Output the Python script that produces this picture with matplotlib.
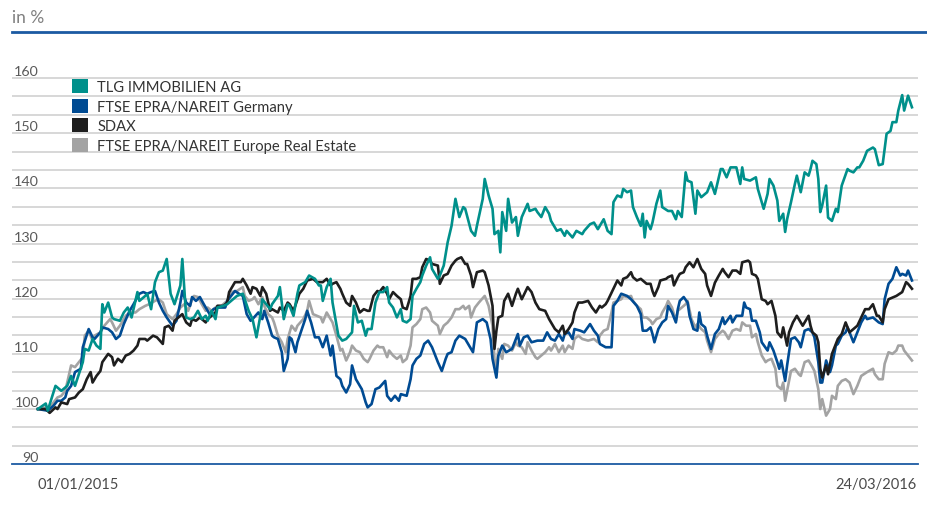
import matplotlib
matplotlib.use("Agg")
import matplotlib.pyplot as plt
import matplotlib.transforms as mtransforms
from matplotlib.patches import Patch
from matplotlib.lines import Line2D

plt.rcParams['font.family'] = ['Lato', 'DejaVu Sans']

# ---------------- data: (day since 01/01/2015, index value) ----------------
series_names = ["TLG IMMOBILIEN AG", "FTSE EPRA/NAREIT Germany", "SDAX",
                "FTSE EPRA/NAREIT Europe Real Estate"]
series_colors = ["#00908B", "#004B93", "#1E1E1E", "#A3A3A3"]
date_labels = ["01/01/2015", "24/03/2016"]
date_label_days = [0, 448]
y_label_values = [90, 100, 110, 120, 130, 140, 150, 160]

tlg = [(0,100.0),(4,101.0),(5,99.7),(9,104.2),(12,103.3),(15,104.2),(17,106.0),(19,104.2),(23,108.5),(24,110.9),
       (26,110.6),(28,112.7),(30,111.5),(32,110.9),(33,119.0),(34,117.5),(36,119.3),(38,116.6),(39,116.3),(42,116.0),
       (44,117.5),(46,118.4),(48,116.6),(51,121.2),(52,119.6),(55,120.5),(56,120.9),(58,118.1),(60,123.0),(62,124.8),
       (64,125.1),(66,127.2),(68,120.9),(70,119.0),(73,122.4),(74,127.2),(76,116.6),(78,116.3),(80,116.6),(82,117.8),
       (84,116.3),(86,116.9),(87,116.0),(89,117.8),(91,116.3),(92,118.4),(95,118.7),(97,119.0),(100,119.9),(102,120.5),
       (105,120.9),(106,119.9),(108,117.8),(110,116.3),(112,113.0),(114,116.9),(115,119.9),(117,119.0),(119,118.1),(120,119.0),
       (123,120.5),(124,122.1),(126,116.3),(128,119.0),(129,118.7),(131,116.9),(133,120.9),(134,122.4),(137,123.0),(139,124.2),
       (142,123.6),(144,122.4),(145,122.4),(146,119.6),(148,122.1),(150,123.6),(151,119.3),(154,113.3),(156,112.4),(158,112.7),
       (161,113.9),(162,118.7),(164,115.7),(166,116.0),(168,113.3),(169,114.5),(171,114.5),(173,119.3),(175,121.2),(177,121.2),
       (179,122.1),(180,119.3),(182,118.4),(184,116.6),(186,118.1),(187,116.0),(189,115.7),(191,116.3),(192,120.5),(194,121.8),
       (196,123.0),(197,124.2),(199,126.0),(201,127.5),(202,125.4),(205,123.6),(206,124.2),(208,126.0),(210,130.2),(212,133.2),
       (214,138.1),(216,134.8),(218,136.6),(219,136.3),(222,132.3),(224,131.4),(225,133.2),(228,138.1),(229,141.7),(231,138.7),
       (233,136.3),(234,131.7),(236,132.3),(237,128.4),(238,135.7),(240,132.3),(241,138.1),(243,133.8),(245,134.8),(246,131.4),
       (248,134.8),(251,137.2),(252,135.9),(255,136.3),(256,135.7),(258,134.8),(260,136.6),(262,135.4),(263,134.1),(266,132.3),
       (268,132.6),(270,131.4),(271,132.3),(274,131.1),(276,132.3),(279,131.7),(280,132.3),(283,133.5),(285,133.8),(287,132.6),
       (288,133.2),(290,134.4),(292,132.3),(294,131.7),(295,137.5),(297,138.7),(299,138.4),(300,139.9),(302,139.3),(304,139.6),
       (305,136.6),(307,134.8),(309,133.2),(310,135.4),(311,131.1),(312,134.1),(314,132.6),(315,133.8),(317,137.2),(319,139.6),
       (320,136.6),(323,135.9),(325,135.9),(327,134.4),(328,135.9),(330,134.8),(332,142.9),(333,141.4),(335,141.1),(337,135.4),
       (338,139.6),(340,138.4),(342,139.0),(343,139.3),(345,141.1),(347,139.0),(350,143.5),(351,143.5),(353,142.0),(355,143.8),
       (358,143.8),(360,140.8),(361,143.8),(362,141.7),(365,141.4),(368,142.0),(369,139.9),(372,136.3),(374,139.0),(375,141.7),
       (377,140.5),(379,137.8),(380,134.1),(382,135.4),(383,132.1),(384,134.4),(386,137.5),(388,140.8),(389,142.3),(391,139.3),
       (393,142.9),(395,142.3),(396,143.5),(397,145.0),(399,144.4),(400,141.7),(401,135.7),(402,136.9),(404,140.5),(405,134.7),
       (407,134.1),(409,136.3),(410,135.7),(412,140.5),(415,143.5),(416,143.2),(418,142.9),(420,143.8),(421,143.8),(423,145.0),
       (425,146.8),(428,147.4),(429,147.1),(431,144.2),(433,144.4),(435,149.9),(437,150.4),(438,152.0),(440,152.0),(441,154.1),
       (443,156.9),(444,154.1),(446,156.8),(448,154.7)]

epra_germany = [(0,100.0),(5,99.7),(8,100.6),(10,101.5),(12,101.5),(14,102.1),(15,103.3),(17,104.2),(19,106.7),(22,107.3),
       (23,111.2),(26,114.5),(28,113.0),(29,112.7),(32,113.9),(33,114.8),(36,114.5),(38,113.9),(40,112.7),(42,113.3),
       (44,115.4),(47,117.8),(49,119.0),(51,120.3),(52,120.9),(54,121.2),(56,120.9),(58,121.2),(60,121.4),(62,119.3),
       (64,117.8),(66,116.6),(69,115.1),(71,116.0),(73,119.3),(74,121.4),(76,119.3),(78,118.7),(79,120.3),(81,119.6),
       (83,120.3),(85,119.0),(86,118.4),(88,117.2),(90,118.1),(92,118.4),(93,118.4),(96,118.4),(97,119.6),(99,120.5),
       (101,121.4),(103,120.9),(105,120.5),(107,117.2),(109,116.0),(110,116.3),(113,117.5),(115,116.3),(116,117.8),(118,115.7),
       (120,113.3),(121,113.0),(123,112.7),(125,110.3),(126,106.9),(128,109.1),(129,113.0),(130,112.7),(132,110.3),(133,112.1),
       (135,114.2),(137,116.3),(138,117.8),(140,115.7),(142,113.0),(144,113.0),(146,111.2),(148,113.3),(150,109.7),(151,111.5),
       (153,106.0),(155,105.4),(156,104.2),(158,103.0),(160,104.5),(161,107.9),(163,105.4),(166,103.6),(168,101.2),(169,100.3),
       (171,100.9),(173,103.6),(175,103.9),(178,105.1),(179,102.4),(181,101.5),(183,102.4),(185,101.5),(186,102.7),(189,102.4),
       (191,105.4),(192,107.9),(194,109.1),(196,109.7),(198,111.8),(200,112.4),(202,111.2),(204,109.4),(205,108.5),(207,106.9),
       (209,109.1),(210,110.0),(212,110.3),(214,112.4),(216,113.3),(219,112.7),(221,111.5),(223,110.3),(225,115.7),(228,116.3),
       (230,115.7),(232,112.7),(233,109.1),(235,105.7),(236,109.7),(237,110.6),(238,111.5),(240,110.3),(243,110.9),(246,113.6),
       (247,111.5),(249,113.0),(251,113.3),(252,112.7),(253,112.1),(256,112.4),(259,112.4),(261,113.9),(263,112.7),(265,112.4),
       (267,113.6),(269,112.4),(270,113.6),(272,113.9),(274,112.7),(275,114.5),(278,114.2),(280,113.9),(283,115.4),(285,114.2),
       (287,113.3),(288,111.8),(291,111.2),(292,111.2),(294,111.2),(295,118.7),(297,119.6),(299,120.9),(302,120.5),(304,119.9),
       (307,118.7),(309,117.2),(310,114.2),(312,114.2),(314,114.8),(315,113.6),(316,112.1),(318,114.5),(320,115.7),(322,116.3),
       (323,118.7),(325,117.5),(327,115.7),(328,118.1),(329,119.6),(331,120.3),(333,119.3),(334,116.9),(336,114.5),(338,114.2),
       (339,117.5),(340,115.4),(342,114.8),(343,113.3),(345,110.9),(347,113.6),(349,114.5),(351,116.6),(352,115.4),(355,116.9),
       (356,115.7),(358,116.9),(361,116.9),(362,119.3),(363,118.4),(365,118.1),(366,116.0),(368,116.0),(370,113.9),(371,112.1),
       (374,110.6),(375,112.1),(377,110.6),(379,108.5),(380,107.3),(381,108.8),(383,105.1),(384,107.9),(386,112.7),(388,113.0),
       (390,112.1),(391,111.2),(393,114.2),(395,114.5),(397,113.9),(398,113.0),(400,108.5),(401,104.8),(402,104.8),(404,108.8),
       (406,106.7),(407,107.9),(409,111.5),(410,111.8),(412,113.3),(414,113.9),(415,114.8),(418,112.1),(420,113.9),(422,115.7),
       (424,116.9),(425,116.3),(428,116.6),(429,116.3),(431,115.7),(433,115.4),(434,119.9),(436,122.7),(438,123.6),(440,125.7),
       (442,124.2),(443,124.5),(445,124.2),(446,125.1),(448,123.3)]

sdax = [(0,100.0),(4,100.0),(6,99.3),(9,100.3),(10,100.0),(12,101.2),(15,100.9),(16,101.8),(19,102.1),(21,103.0),
       (23,103.6),(25,105.4),(27,106.7),(28,104.8),(30,106.0),(32,106.9),(33,108.5),(36,110.0),(38,109.4),(39,107.9),
       (41,109.1),(43,108.5),(45,109.7),(47,110.0),(49,110.6),(51,111.5),(52,112.7),(55,112.7),(56,112.4),(59,113.3),
       (61,113.0),(64,111.8),(65,114.8),(67,115.1),(69,114.2),(70,116.0),(73,116.9),(74,117.2),(76,115.7),(78,115.1),
       (79,116.3),(81,116.0),(83,116.6),(86,115.7),(87,116.3),(89,116.9),(91,117.5),(92,118.7),(95,118.7),(97,119.3),
       (98,121.2),(101,123.0),(104,123.0),(105,123.6),(107,122.4),(109,120.9),(110,122.1),(112,121.8),(114,120.5),(115,122.1),
       (117,120.9),(119,117.8),(120,118.1),(123,117.5),(124,118.4),(126,117.8),(128,119.3),(129,119.0),(131,117.8),(133,119.9),
       (134,120.9),(136,121.8),(138,123.3),(141,123.6),(143,123.0),(146,123.0),(148,123.6),(150,122.4),(151,122.7),(153,123.0),
       (155,121.8),(156,120.9),(158,119.3),(160,118.7),(161,120.5),(163,119.3),(165,117.5),(167,118.1),(169,117.8),(170,117.8),
       (172,120.5),(174,121.4),(175,121.2),(177,122.1),(179,120.9),(180,119.9),(182,121.2),(184,120.5),(186,119.9),(187,118.4),
       (189,118.1),(191,120.5),(192,123.6),(194,123.6),(196,123.9),(197,125.7),(199,127.2),(201,126.9),(202,126.3),(205,126.0),
       (206,122.7),(208,124.2),(210,124.5),(212,126.0),(214,126.9),(215,127.2),(217,127.5),(219,126.3),(220,126.3),(222,124.2),
       (223,122.1),(225,124.8),(228,125.1),(229,124.8),(231,122.4),(233,118.7),(234,110.9),(235,114.2),(236,116.6),(238,116.9),
       (239,119.6),(241,120.9),(243,118.7),(245,120.9),(246,121.8),(248,119.9),(251,122.1),(253,121.2),(255,119.3),(257,118.1),
       (260,117.8),(262,116.3),(265,114.5),(267,113.9),(269,115.1),(270,113.6),(272,114.5),(274,115.7),(275,117.5),(277,119.3),
       (279,119.3),(282,119.6),(284,118.4),(286,117.5),(288,118.7),(289,118.4),(291,119.0),(292,119.6),(295,121.8),(297,123.3),
       (299,122.4),(300,123.6),(302,123.9),(304,124.8),(305,123.9),(307,123.3),(309,123.6),(310,123.3),(312,122.7),(314,122.7),
       (315,121.4),(316,120.5),(318,122.1),(319,123.3),(322,123.6),(323,123.9),(325,124.2),(326,122.4),(328,123.9),(329,124.5),
       (331,124.8),(332,125.7),(334,126.6),(336,125.7),(338,127.2),(340,125.4),(342,124.5),(343,122.4),(345,120.5),(347,122.9),
       (349,124.2),(351,125.4),(352,124.8),(354,123.9),(356,125.1),(358,125.1),(360,124.5),(361,126.6),(364,126.9),(365,126.6),
       (366,124.5),(368,124.2),(369,123.6),(371,119.9),(373,119.6),(374,119.0),(376,119.6),(378,116.9),(379,113.9),(381,113.0),
       (382,114.8),(384,111.5),(385,113.9),(387,115.7),(389,116.9),(390,116.3),(392,115.1),(395,116.9),(396,115.1),(397,113.9),
       (399,113.3),(400,112.1),(401,107.3),(402,105.7),(404,107.9),(405,106.3),(406,108.2),(407,110.0),(409,111.8),(410,112.7),
       (412,113.6),(414,115.7),(416,113.9),(418,114.5),(420,115.1),(422,116.6),(424,118.1),(426,118.1),(428,119.0),(430,116.9),
       (431,116.9),(433,115.7),(434,118.1),(436,119.9),(438,120.2),(440,120.5),(443,121.2),(445,123.0),(446,122.7),(448,121.8)]

epra_europe = [(0,100.0),(4,100.3),(5,99.7),(8,101.2),(10,102.1),(12,102.4),(14,103.3),(15,104.8),(17,107.9),(19,107.6),
       (21,108.5),(23,109.4),(24,113.3),(26,114.2),(28,112.4),(29,113.3),(32,113.9),(34,115.1),(37,116.3),(38,115.7),
       (40,114.2),(42,115.1),(45,116.9),(47,117.5),(50,117.5),(52,118.1),(55,118.7),(57,119.0),(60,119.6),(62,119.9),
       (64,119.3),(66,117.2),(69,116.3),(71,117.2),(73,118.4),(75,119.0),(77,117.8),(79,119.9),(80,120.5),(82,120.3),
       (84,119.0),(86,117.8),(87,118.4),(89,117.8),(92,118.7),(94,118.7),(97,119.6),(99,121.2),(102,121.4),(105,122.1),
       (106,120.5),(108,119.6),(110,119.9),(111,120.3),(113,119.0),(115,120.3),(116,118.7),(118,117.2),(120,116.6),(121,115.7),
       (123,113.3),(125,112.1),(127,110.3),(128,112.7),(130,115.1),(132,114.2),(133,115.1),(136,116.3),(138,117.8),(139,119.6),
       (141,117.2),(143,116.9),(145,116.6),(146,115.7),(148,117.5),(150,116.3),(151,115.7),(153,113.3),(155,110.6),(156,110.9),
       (158,108.8),(160,110.3),(161,111.5),(163,110.6),(165,110.3),(167,109.1),(169,108.5),(170,109.1),(172,110.6),(174,111.5),
       (175,111.2),(177,111.2),(179,109.4),(180,110.6),(182,109.7),(184,109.1),(186,109.7),(187,108.5),(189,109.1),(191,111.5),
       (192,114.8),(194,115.4),(196,116.3),(197,118.1),(199,118.4),(201,117.5),(202,116.0),(205,115.1),(206,113.6),(208,115.1),
       (210,115.7),(212,116.6),(214,118.1),(216,118.1),(218,118.7),(219,118.1),(221,118.7),(222,116.6),(224,118.4),(226,119.3),
       (229,120.5),(231,118.7),(233,115.1),(234,109.1),(235,107.3),(236,110.9),(238,109.1),(239,111.8),(241,111.5),(243,110.6),
       (245,112.1),(246,111.5),(248,111.2),(250,110.0),(251,112.1),(253,110.6),(255,109.4),(256,109.1),(258,109.7),(260,110.3),
       (262,111.2),(263,110.6),(265,111.8),(267,110.3),(269,111.5),(270,110.3),(272,111.5),(274,110.9),(275,112.7),(277,113.3),
       (279,112.7),(282,112.4),(285,112.7),(287,112.1),(288,113.3),(290,114.2),(292,114.5),(294,117.5),(295,119.3),(297,119.6),
       (299,119.9),(300,120.5),(302,120.3),(304,120.5),(305,119.6),(307,118.7),(309,118.1),(310,116.6),(312,116.6),(314,116.0),
       (315,115.4),(317,116.3),(319,116.6),(320,117.5),(322,118.7),(323,119.6),(325,118.4),(327,116.0),(328,117.8),(330,118.4),
       (332,119.0),(333,119.6),(335,116.3),(337,114.8),(338,115.4),(340,114.5),(342,113.9),(343,112.4),(345,110.3),(347,112.7),
       (349,113.6),(351,114.2),(352,113.9),(354,112.7),(356,114.2),(358,114.5),(360,114.2),(361,115.7),(363,115.1),(365,115.1),
       (366,113.0),(368,113.6),(369,112.1),(371,109.7),(373,108.5),(374,108.8),(376,109.1),(378,107.3),(379,104.2),(381,103.6),
       (382,104.8),(383,101.5),(384,103.3),(386,106.9),(388,107.3),(390,106.3),(391,106.0),(393,108.5),(395,108.8),(397,107.6),
       (398,106.9),(400,103.6),(401,100.0),(402,101.8),(404,98.8),(406,100.0),(407,102.4),(409,101.8),(410,104.2),(412,105.1),
       (414,105.4),(416,104.8),(418,102.7),(420,104.2),(422,106.0),(425,106.7),(428,107.3),(429,106.3),(431,105.4),(433,105.4),
       (434,108.2),(436,110.3),(438,110.0),(440,110.6),(441,111.5),(443,111.5),(444,110.6),(446,109.7),(448,108.8)]

all_series = [tlg, epra_germany, sdax, epra_europe]

# ---------------- layout ----------------
W, H = 927, 510
BLUE = "#1B5AA2"
fig = plt.figure(figsize=(W / 100, H / 100), dpi=100)
ax = fig.add_axes([12 / W, 44.8 / H, 906 / W, 391.7 / H])
ax.set_xlim(-13.3, 451.1)
ax.set_ylim(90, 161)

# horizontal grid every 10/3 units
for k in range(1, 22):
    ax.axhline(90 + k * 10 / 3, color="#CDCDCD", lw=1.1, zorder=1)

for s in ["top", "left", "right"]:
    ax.spines[s].set_visible(False)
ax.spines["bottom"].set_color(BLUE)
ax.spines["bottom"].set_linewidth(1.3)
ax.set_xticks([])
ax.set_yticks([])

# lines (drawn back to front: Europe, Germany, SDAX, TLG)
draw_order = [3, 1, 2, 0]
for z, i in enumerate(draw_order):
    d = [p[0] for p in all_series[i]]
    v = [p[1] for p in all_series[i]]
    ax.plot(d, v, color=series_colors[i], lw=1.9, solid_joinstyle="round", zorder=3 + z)

# y labels sitting above their grid lines
ytrans = mtransforms.offset_copy(
    mtransforms.blended_transform_factory(ax.transAxes, ax.transData),
    fig=fig, x=0, y=7, units="dots")
for v in y_label_values:
    ax.text((39 - 12) / 906, v, str(v), transform=ytrans, ha="right", va="center",
            fontsize=10.3, color="#5A5A5A", zorder=10)

# date labels below axis
xtrans = mtransforms.blended_transform_factory(ax.transData, fig.transFigure)
ax.text(date_labels and date_label_days[0], 1 - 485 / H, date_labels[0], transform=xtrans,
        ha="left", va="center", fontsize=10.5, color="#4A4A4A")
ax.text(date_label_days[1] + 2.5, 1 - 485 / H, date_labels[1], transform=xtrans,
        ha="right", va="center", fontsize=10.5, color="#4A4A4A")

# header
fig.text(12 / W, 1 - 18 / H, "in %", ha="left", va="center", fontsize=12.5, color="#808080")
fig.add_artist(Line2D([12 / W, 1.0], [1 - 33 / H, 1 - 33 / H], transform=fig.transFigure,
                      color=BLUE, lw=2.0))

# legend
handles = [Patch(facecolor=c, edgecolor="none") for c in series_colors]
leg = ax.legend(handles, series_names, loc="upper left",
                bbox_to_anchor=(72 / W, 1 - 80 / H), bbox_transform=fig.transFigure,
                frameon=False, borderpad=0, borderaxespad=0, handlelength=1.12,
                handleheight=1.12, handletextpad=0.6, labelspacing=0.3,
                fontsize=10.6, labelcolor="#333333")
leg.set_zorder(20)

fig.savefig("out.png", dpi=100)
